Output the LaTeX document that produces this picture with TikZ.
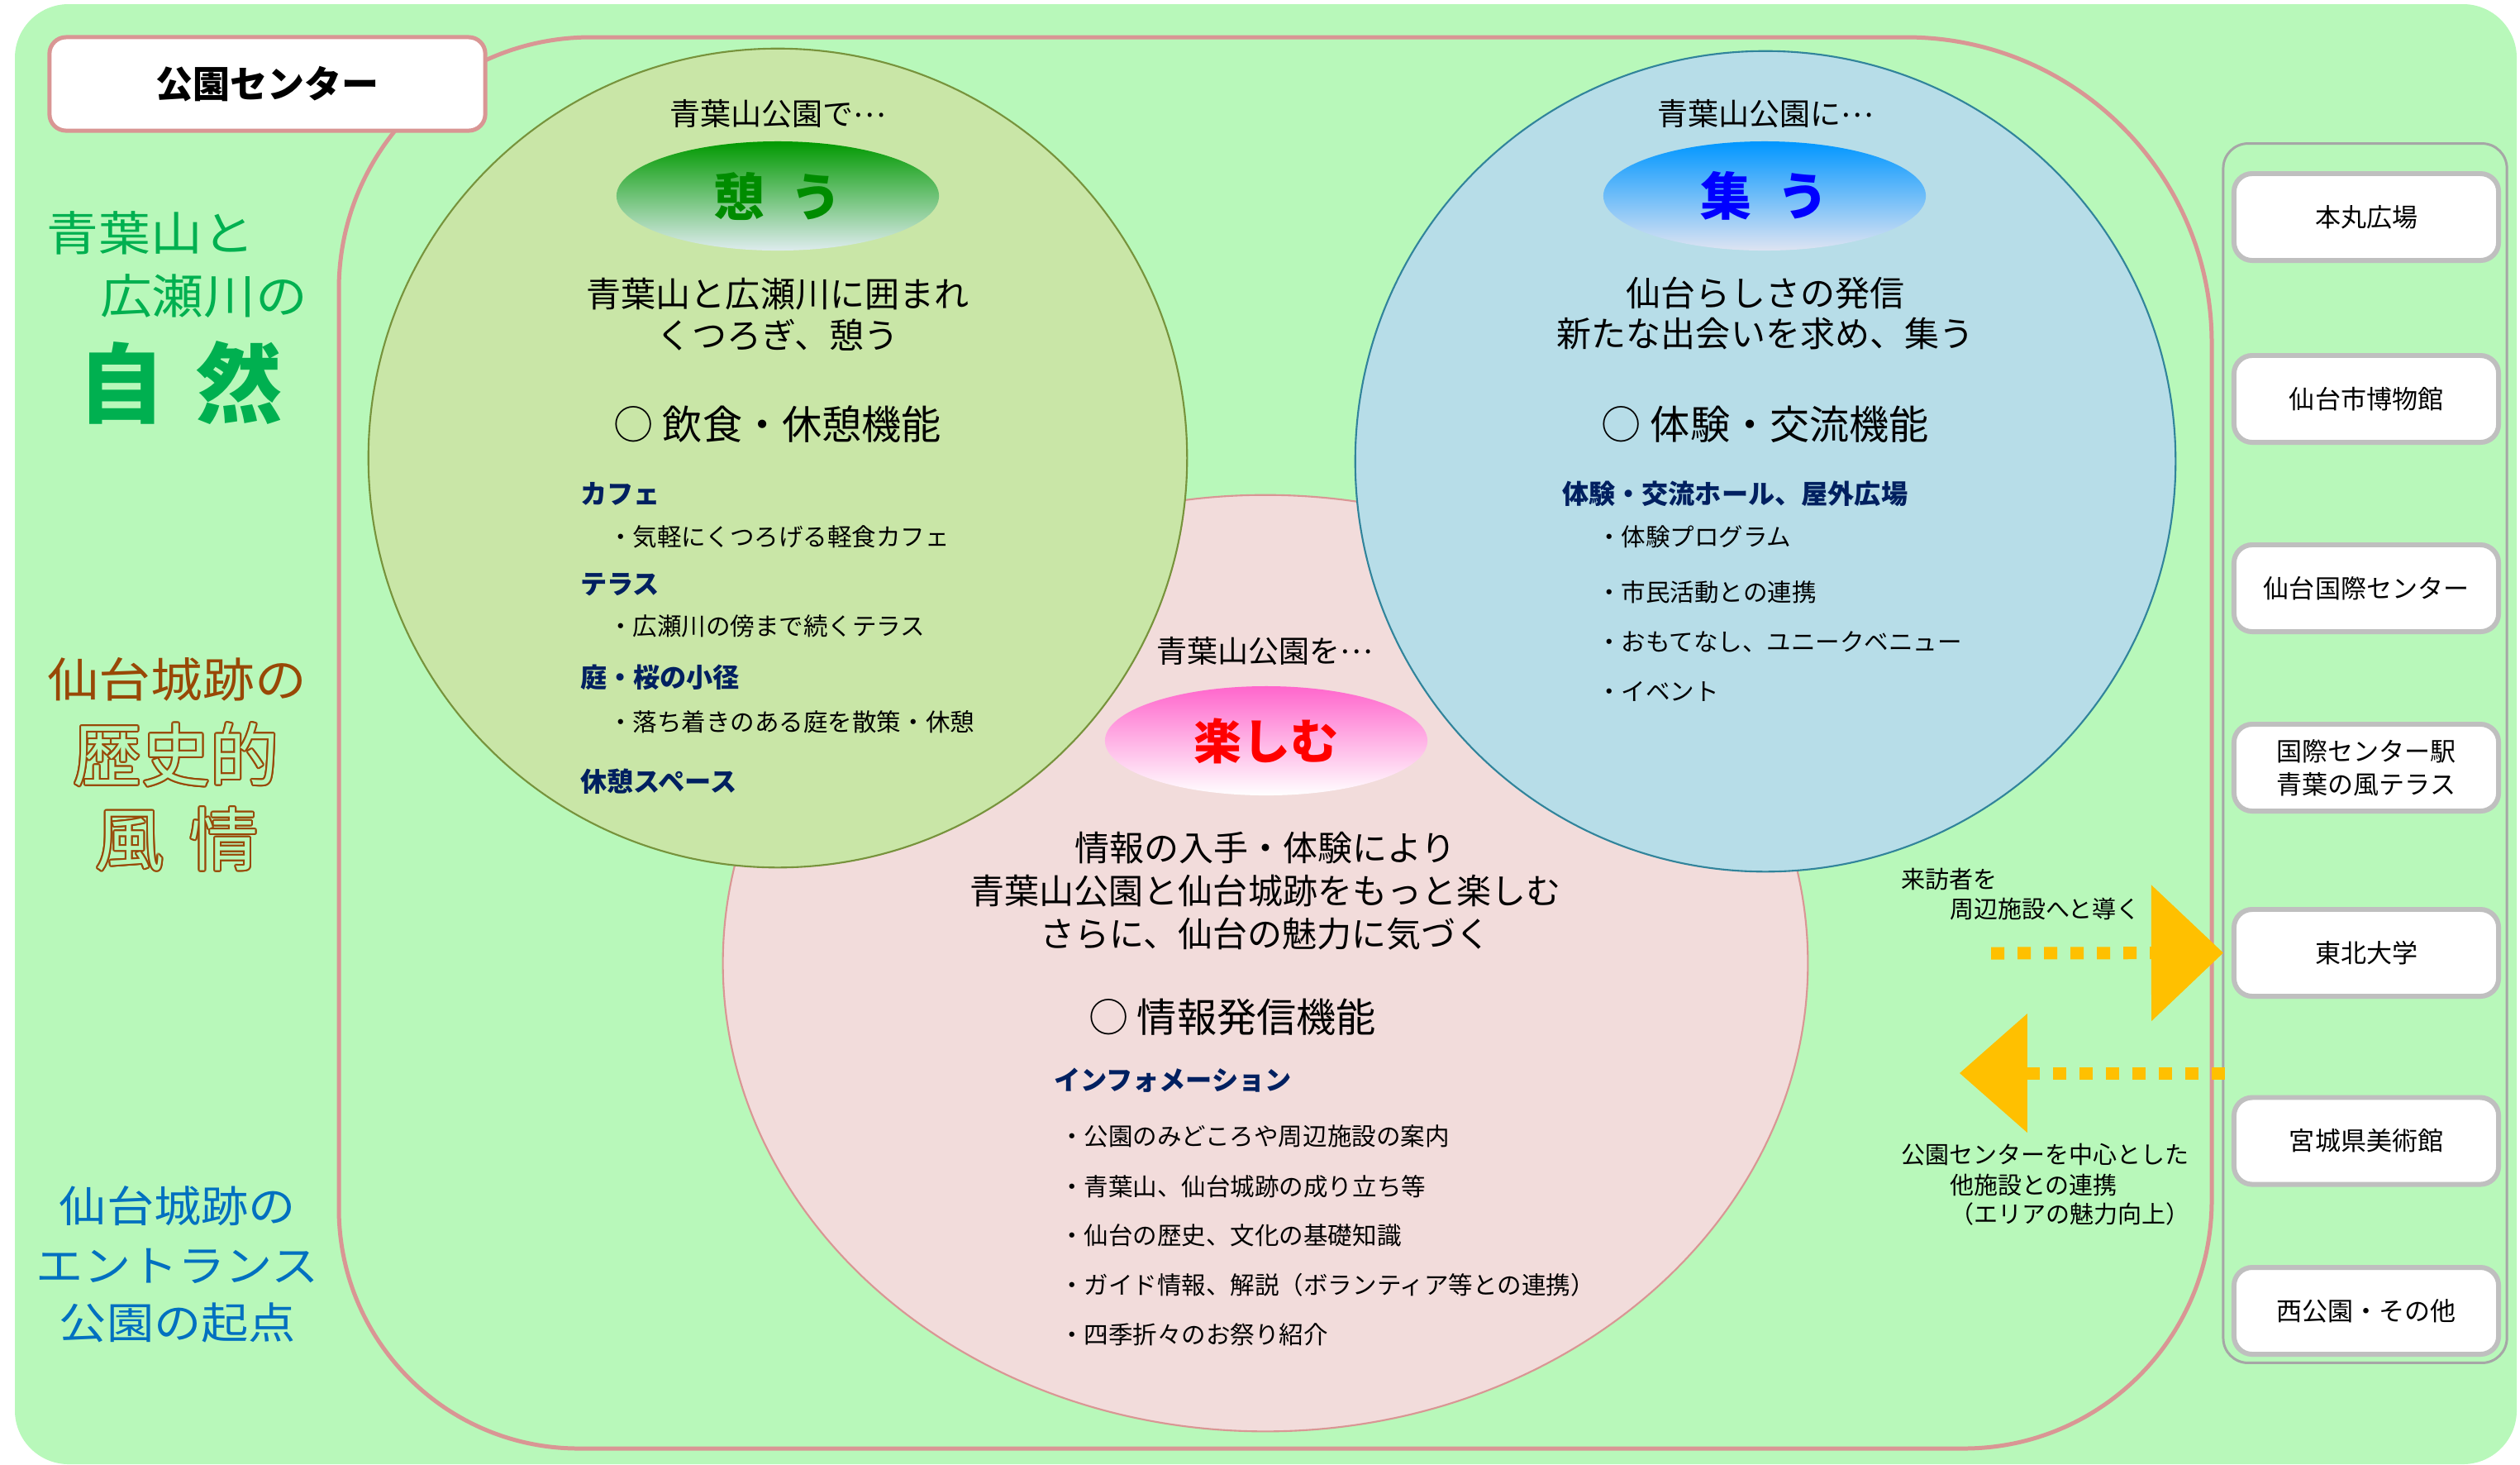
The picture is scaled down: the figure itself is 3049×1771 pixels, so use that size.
\documentclass[tikz,border=0pt]{standalone}
\usepackage{fontspec}
\setmainfont{Noto Sans CJK JP}
\newfontfamily\widef[FakeStretch=1.1]{Noto Sans CJK JP}
\usetikzlibrary{shapes.geometric,arrows.meta}
\definecolor{bggreen}{HTML}{B8F8BA}
\definecolor{framepink}{HTML}{D99694}
\definecolor{gfill}{HTML}{C9E6A7}
\definecolor{gline}{HTML}{77933C}
\definecolor{bfill}{HTML}{B7DDE8}
\definecolor{bline}{HTML}{31849B}
\definecolor{pfill}{HTML}{F2DCDB}
\definecolor{pline}{HTML}{D99694}
\definecolor{navy}{HTML}{002060}
\definecolor{lgreen}{HTML}{00B050}
\definecolor{brownc}{HTML}{984806}
\definecolor{lblue}{HTML}{0070C0}
\definecolor{orangec}{HTML}{FFC000}
\definecolor{boxgray}{HTML}{BFBFBF}
\definecolor{framegray}{HTML}{A6A6A6}
\newcommand\fz[2]{\fontsize{#1pt}{#2pt}\selectfont}
\newcommand\mdots{\raisebox{0.28em}{…}}
\begin{document}
\begin{tikzpicture}[x=0.01cm,y=-0.01cm,
  every node/.style={inner sep=0pt, outer sep=0pt},
  headtext/.style={font=\fz{10.53}{12}},
  bodytext/.style={font=\fz{11.95}{14.2}, align=center},
  functext/.style={font=\fz{13.7}{15}},
  cattext/.style={font=\bfseries\fz{9.15}{10}, text=navy, anchor=west},
  itemtext/.style={font=\fz{8.4}{9}, anchor=west},
  keyell/.style={ellipse, minimum width=3.9cm, minimum height=1.32cm, font=\bfseries\fz{17.64}{18}},
  facbox/.style={draw=boxgray, line width=1.7pt, fill=white, rounded corners=0.22cm, minimum width=3.2cm, minimum height=1.05cm, font=\fz{8.82}{11.4}, align=center},
  note/.style={font=\fz{8.25}{10}, anchor=west},
  sidegreen/.style={font=\widef\fz{16.22}{17}, text=lgreen},
  sidebrown/.style={font=\widef\fz{16.22}{17}, text=brownc},
  sideblue/.style={font=\widef\fz{14.8}{16}, text=lblue},
  outl/.style={font=\fz{23.6}{24}, text=brownc},
  dotarrow/.style={draw=orangec, line width=4.27pt, dash pattern=on 4.55pt off 4.55pt}
]
\useasboundingbox (0,0) rectangle (3049,1771);
\fill[white] (0,0) rectangle (3049,1771);
\fill[bggreen, rounded corners=0.65cm] (18,5) rectangle (3045,1771);

% park frame
\draw[framepink, line width=1.42pt] (410,350) arc[start angle=180, end angle=270, radius=305] -- (2306,45) arc[start angle=270, end angle=360, radius=370] -- (2676,1452) arc[start angle=0, end angle=90, radius=300] -- (700,1752) arc[start angle=90, end angle=180, radius=290] -- cycle;

% circles
\node[ellipse, minimum width=13.12cm, minimum height=11.32cm, fill=pfill, draw=pline, line width=0.6pt] (pc) at (1531,1165) {};
\node[circle, minimum size=9.9cm, fill=gfill, draw=gline, line width=0.6pt] (gc) at (941,554) {};
\node[circle, minimum size=9.92cm, fill=bfill, draw=bline, line width=0.6pt] (bc) at (2136,558) {};

% green circle content
\node[headtext] (g1) at (941,138) {青葉山公園で\mdots};
\node[keyell, top color=green!60!black, middle color=green!60, bottom color={rgb,255:red,222;green,236;blue,238}, text={rgb,255:red,0;green,140;blue,0}] (iko) at (941,237) {憩\hspace{0.5em}う};
\node[bodytext] (g2) at (941,380) {青葉山と広瀬川に囲まれ\\くつろぎ、憩う};
\node[functext] (g3) at (941,513) {○ 飲食・休憩機能};
\node[cattext] (g4) at (702,597) {カフェ};
\node[itemtext] (g5) at (736,649) {・気軽にくつろげる軽食カフェ};
\node[cattext] (g6) at (702,707) {テラス};
\node[itemtext] (g7) at (736,757) {・広瀬川の傍まで続くテラス};
\node[cattext] (g8) at (702,819) {庭・桜の小径};
\node[itemtext] (g9) at (736,873) {・落ち着きのある庭を散策・休憩};
\node[cattext] (g10) at (702,945) {休憩スペース};

% blue circle content
\node[headtext] (b1) at (2136,138) {青葉山公園に\mdots};
\node[keyell, top color={rgb,255:red,0;green,150;blue,255}, middle color={rgb,255:red,140;green,200;blue,224}, bottom color={rgb,255:red,222;green,228;blue,242}, text=blue] (tsudo) at (2135,237) {集\hspace{0.5em}う};
\node[bodytext] (b2) at (2136,379) {仙台らしさの発信\\新たな出会いを求め、集う};
\node[functext] (b3) at (2136,513) {○ 体験・交流機能};
\node[cattext] (b4) at (1890,597) {体験・交流ホール、屋外広場};
\node[itemtext] (b5) at (1932,649) {・体験プログラム};
\node[itemtext] (b6) at (1932,716) {・市民活動との連携};
\node[itemtext] (b7) at (1932,776) {・おもてなし、ユニークベニュー};
\node[itemtext] (b8) at (1932,836) {・イベント};

% pink ellipse content
\node[headtext] (p1) at (1530,787) {青葉山公園を\mdots};
\node[keyell, top color={rgb,255:red,255;green,102;blue,204}, middle color={rgb,255:red,255;green,204;blue,204}, bottom color=white, text=red, font=\bfseries\fz{16.5}{17}] (tanoshimu) at (1532,896) {楽しむ};
\node[bodytext, font=\fz{11.95}{14.8}] (p2) at (1531,1078) {情報の入手・体験により\\青葉山公園と仙台城跡をもっと楽しむ\\さらに、仙台の魅力に気づく};
\node[functext, anchor=west] (p3) at (1317,1230) {○ 情報発信機能};
\node[cattext] (p4) at (1275,1307) {インフォメーション};
\node[itemtext] (p5) at (1282,1374) {・公園のみどころや周辺施設の案内};
\node[itemtext] (p6) at (1282,1435) {・青葉山、仙台城跡の成り立ち等};
\node[itemtext] (p7) at (1282,1494) {・仙台の歴史、文化の基礎知識};
\node[itemtext] (p8) at (1282,1554) {・ガイド情報、解説（ボランティア等との連携）};
\node[itemtext] (p9) at (1282,1614) {・四季折々のお祭り紹介};

% park center box
\node[draw=framepink, line width=1.42pt, fill=white, rounded corners=0.2cm, minimum width=5.27cm, minimum height=1.13cm, font=\bfseries\fz{12.8}{13}] (pcenter) at (323.5,101.5) {公園センター};

% left column
\node[sidegreen, anchor=west] (l1) at (57,282) {青葉山と};
\node[sidegreen, anchor=west] (l2) at (121,358) {広瀬川の};
\node[font=\bfseries\fz{29.88}{30}, text=lgreen] (l3) at (218,463) {自\hspace{0.36em}然};
\node[sidebrown] (l4) at (214,822) {仙台城跡の};
\foreach \a in {0,30,...,330}{
  \node[outl] (rko\a) at ([shift={(\a:2.2)}]213,913) {歴史的};
  \node[outl] (fjo\a) at ([shift={(\a:2.2)}]214,1015) {風\hspace{0.37em}情};
}
\node[outl, text=bggreen] (l5) at (213,913) {歴史的};
\node[outl, text=bggreen] (l6) at (214,1015) {風\hspace{0.37em}情};
\node[sideblue] (l7) at (215,1459) {仙台城跡の};
\node[sideblue] (l8) at (215,1531) {エントランス};
\node[sideblue] (l9) at (215,1600) {公園の起点};

% facilities
\node[draw=framegray, line width=0.85pt, rounded corners=0.3cm, minimum width=3.43cm, minimum height=14.74cm] (facil) at (2861.5,911) {};
\node[facbox] (f1) at (2863,262.5) {本丸広場};
\node[facbox] (f2) at (2863,482.5) {仙台市博物館};
\node[facbox] (f3) at (2863,711.5) {仙台国際センター};
\node[facbox] (f4) at (2863,928.5) {国際センター駅\\青葉の風テラス};
\node[facbox] (f5) at (2863,1152.5) {東北大学};
\node[facbox] (f6) at (2863,1380) {宮城県美術館};
\node[facbox] (f7) at (2863,1585.5) {西公園・その他};

% arrows
\coordinate (a1s) at (2409,1153);
\coordinate (a1e) at (facil.west |- f5.center);
\coordinate (a2s) at (2692,1298);
\coordinate (a2e) at (2371,1298);
\draw[dotarrow, -{Triangle[length=24.75pt, width=46.9pt, line width=0pt]}] (a1s) -- (a1e);
\draw[dotarrow, -{Triangle[length=23.3pt, width=41pt, line width=0pt]}] (a2s) -- (a2e);

\node[note] (n1) at (2300,1063) {来訪者を};
\node[note] (n2) at (2359,1099) {周辺施設へと導く};
\node[note] (n3) at (2300,1397) {公園センターを中心とした};
\node[note] (n4) at (2359,1433) {他施設との連携};
\node[note] (n5) at (2359,1468) {（エリアの魅力向上）};
\end{tikzpicture}
\end{document}
